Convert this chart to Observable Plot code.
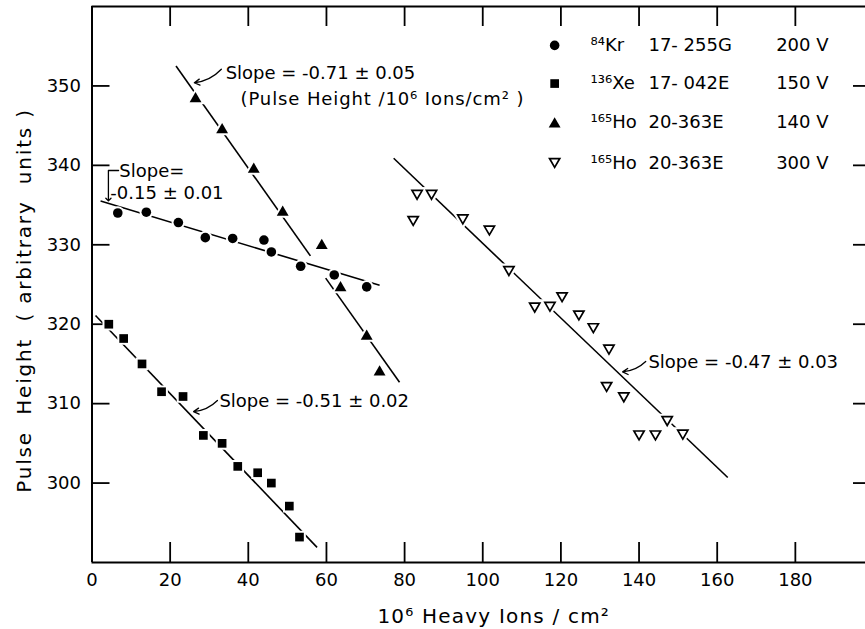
<!DOCTYPE html>
<html><head><meta charset="utf-8">
<script src="https://cdn.jsdelivr.net/npm/d3@7"></script>
<script src="https://cdn.jsdelivr.net/npm/@observablehq/plot@0.6"></script>
<style>
html,body{margin:0;padding:0;background:#fff;}
#chart{width:865px;height:629px;overflow:hidden;}
</style></head><body><div id="chart"></div>
<script>
// ---- Axis ticks ----
const xTicks = [0, 20, 40, 60, 80, 100, 120, 140, 160, 180];
const xInnerTicks = [20, 40, 60, 80, 100, 120, 140, 160, 180];
const yTicks = [300, 310, 320, 330, 340, 350];

// ---- Series data ----
const kr84X = [6.6, 13.9, 22.1, 29.0, 36.0, 44.0, 45.9, 53.4, 62.0, 70.3];
const kr84Y = [334.0, 334.1, 332.8, 330.9, 330.8, 330.6, 329.1, 327.3, 326.2, 324.7];

const xe136X = [4.3, 8.1, 12.8, 17.8, 23.3, 28.5, 33.3, 37.3, 42.4, 45.9, 50.5, 53.1];
const xe136Y = [320.0, 318.2, 315.0, 311.5, 310.9, 306.0, 305.0, 302.1, 301.3, 300.0, 297.1, 293.2];

const ho140X = [26.5, 33.3, 41.4, 48.8, 58.8, 63.6, 70.3, 73.6];
const ho140Y = [348.6, 344.7, 339.7, 334.3, 330.1, 324.8, 318.7, 314.2];

const ho300X = [82.2, 83.2, 86.9, 94.9, 101.7, 106.7, 113.3, 117.2, 120.3, 124.6, 128.3, 131.7, 132.3, 136.1, 140.0, 144.2, 147.2, 151.2];
const ho300Y = [333.0, 336.3, 336.3, 333.2, 331.8, 326.7, 322.1, 322.2, 323.4, 321.1, 319.5, 312.1, 316.8, 310.8, 306.0, 306.0, 307.8, 306.1];

// ---- Fitted lines (segments) ----
const fitX1 = [2.2, 21.5, 59.8, 0.9, 77.2];
const fitY1 = [335.5, 352.5, 325.8, 321.1, 340.9];
const fitX2 = [73.6, 55.9, 78.7, 57.6, 162.7];
const fitY2 = [324.9, 328.6, 312.7, 291.9, 300.7];

// ---- Legend ----
const legendIsotope = ["⁸⁴Kr", "¹³⁶Xe", "¹⁶⁵Ho", "¹⁶⁵Ho"];
const legendSample = ["17- 255G", "17- 042E", "20-363E", "20-363E"];
const legendVoltage = ["200 V", "150 V", "140 V", "300 V"];
const legendY = [355.1, 350.3, 345.4, 340.3];

// ---- Annotations ----
const noteText = ["Slope = -0.71 ± 0.05", "(Pulse Height /10⁶ Ions/cm² )", "Slope=", "-0.15 ± 0.01", "Slope = -0.51 ± 0.02", "Slope = -0.47 ± 0.03"];
const noteX = [34.2, 38.0, 7.0, 4.7, 32.6, 142.4];
const noteY = [351.6, 348.3, 339.2, 336.5, 310.3, 315.2];

const arrowX1 = [33.1, 32.1, 141.7];
const arrowY1 = [352.1, 310.4, 315.3];
const arrowX2 = [26.2, 26.0, 135.8];
const arrowY2 = [350.4, 309.0, 314.0];

const bracketX = [6.8, 4.2, 4.2];
const bracketY = [339.35, 339.35, 335.7];

const xTitle = "10⁶ Heavy Ions / cm²";
const yTitle = "Pulse  Height  ( arbitrary  units )";

// ---- Symbols ----
const triUp = {draw(ctx, size) {
  const h = Math.sqrt(size / (3 * Math.sqrt(3)));
  ctx.moveTo(0, -1.5 * h); ctx.lineTo(Math.sqrt(3) * h, 1.5 * h); ctx.lineTo(-Math.sqrt(3) * h, 1.5 * h); ctx.closePath();
}};
const triDown = {draw(ctx, size) {
  const h = Math.sqrt(size / (3 * Math.sqrt(3)));
  ctx.moveTo(0, 1.5 * h); ctx.lineTo(Math.sqrt(3) * h, -1.5 * h); ctx.lineTo(-Math.sqrt(3) * h, -1.5 * h); ctx.closePath();
}};

const idx = (a) => a.map((_, i) => i);

const series = [
  {X: kr84X, Y: kr84Y, symbol: "circle", r: 4.8, open: false},
  {X: xe136X, Y: xe136Y, symbol: "square", r: 4.9, open: false},
  {X: ho140X, Y: ho140Y, symbol: triUp, r: 4.4, open: false},
  {X: ho300X, Y: ho300Y, symbol: triDown, r: 3.8, open: true}
];

function dotMarks(data, xf, yf, s) {
  if (s.open) {
    return [
      Plot.dot(data, {x: xf, y: yf, symbol: s.symbol, r: s.r, fill: "white", stroke: "white", strokeWidth: 6}),
      Plot.dot(data, {x: xf, y: yf, symbol: s.symbol, r: s.r, fill: "white", stroke: "black", strokeWidth: 1.7})
    ];
  }
  return [Plot.dot(data, {x: xf, y: yf, symbol: s.symbol, r: s.r, fill: "black", stroke: "white", strokeWidth: 4, paintOrder: "stroke"})];
}

const marks = [];
// frame
marks.push(Plot.ruleY([290, 360], {strokeWidth: 2}));
marks.push(Plot.ruleX([0], {strokeWidth: 2}));
// ticks (inward)
marks.push(Plot.axisX(xInnerTicks, {anchor: "bottom", tickSize: -20, fill: "none", label: null, strokeWidth: 1.8}));
marks.push(Plot.axisX(xInnerTicks, {anchor: "top", tickSize: -19, fill: "none", label: null, strokeWidth: 1.8}));
marks.push(Plot.axisY(yTicks, {anchor: "left", tickSize: -18, fill: "none", label: null, strokeWidth: 1.8}));
marks.push(Plot.axisY(yTicks, {anchor: "right", tickSize: -13, fill: "none", label: null, strokeWidth: 1.8}));
// tick labels
marks.push(Plot.axisX(xTicks, {anchor: "bottom", tickSize: 0, tickPadding: 11, label: null}));
marks.push(Plot.axisY(yTicks, {anchor: "left", tickSize: 0, tickPadding: 11, label: null}));
// axis titles
marks.push(Plot.text([xTitle], {frameAnchor: "bottom", dx: 15, dy: 54, text: d => d, fontSize: 20, textAnchor: "middle", lineAnchor: "middle"}));
marks.push(Plot.text([yTitle], {frameAnchor: "left", dx: -67.5, dy: 16, rotate: -90, text: d => d, fontSize: 20, textAnchor: "middle", lineAnchor: "middle"}));
// fitted lines
marks.push(Plot.link(idx(fitX1), {x1: i => fitX1[i], y1: i => fitY1[i], x2: i => fitX2[i], y2: i => fitY2[i], strokeWidth: 1.6}));
// data points
series.forEach(s => {
  marks.push(...dotMarks(idx(s.X), i => s.X[i], i => s.Y[i], s));
});
// legend
series.forEach((s, k) => {
  marks.push(...dotMarks([k], () => 118.4, () => legendY[k], s));
});
marks.push(Plot.text(idx(legendY), {x: 127.6, y: i => legendY[i], text: i => legendIsotope[i], textAnchor: "start", lineAnchor: "middle"}));
marks.push(Plot.text(idx(legendY), {x: 142.4, y: i => legendY[i], text: i => legendSample[i], textAnchor: "start", lineAnchor: "middle"}));
marks.push(Plot.text(idx(legendY), {x: 188.5, y: i => legendY[i], text: i => legendVoltage[i], textAnchor: "end", lineAnchor: "middle"}));
// annotations
marks.push(Plot.text(idx(noteText), {x: i => noteX[i], y: i => noteY[i], text: i => noteText[i], textAnchor: "start", lineAnchor: "middle", fill: "black", stroke: "white", strokeWidth: 3, paintOrder: "stroke"}));
marks.push(Plot.arrow(idx(arrowX1), {x1: i => arrowX1[i], y1: i => arrowY1[i], x2: i => arrowX2[i], y2: i => arrowY2[i], bend: 20, headLength: 7, strokeWidth: 1.3}));
marks.push(Plot.line(idx(bracketX), {x: i => bracketX[i], y: i => bracketY[i], markerEnd: "arrow", strokeWidth: 1.3}));

const chart = Plot.plot({
  width: 865,
  height: 629,
  marginLeft: 91.5,
  marginRight: 0,
  marginTop: 6,
  marginBottom: 67,
  x: {domain: [0, 200], range: [91.5, 873]},
  y: {domain: [290, 360], range: [562, 6]},
  style: {fontFamily: "'DejaVu Sans', sans-serif", fontSize: "18px", color: "black", background: "white", overflow: "hidden"},
  marks
});
// letter spacing for the wide hand-lettered texts
const spacing = new Map([[xTitle, "1.2"], [yTitle, "1.8"], [noteText[1], "0.9"]]);
d3.select(chart).selectAll("text").each(function () {
  const s = spacing.get(this.textContent);
  if (s) this.setAttribute("letter-spacing", s);
});
document.getElementById("chart").appendChild(chart);
</script>
</body></html>
